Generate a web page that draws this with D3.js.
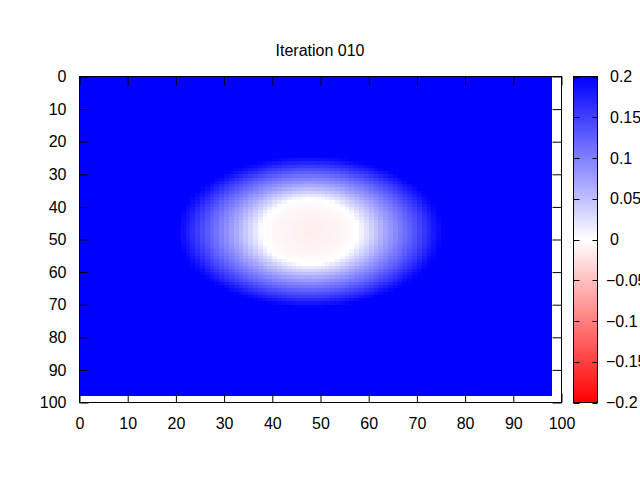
<!DOCTYPE html>
<html>
<head>
<meta charset="utf-8">
<script src="https://cdn.jsdelivr.net/npm/d3@7"></script>
<style>
  body { margin: 0; background: #fff; }
  text { font-family: "Liberation Sans", Arial, sans-serif; font-size: 16px; fill: #000; }
</style>
</head>
<body>
<div id="chart"></div>
<script>
// --- data ---
var title = "Iteration 010";
var gridSize = 98;                 // cells 0..97 on both axes
var xTicks = [0, 10, 20, 30, 40, 50, 60, 70, 80, 90, 100];
var yTicks = [0, 10, 20, 30, 40, 50, 60, 70, 80, 90, 100];
var cbTicks = [0.2, 0.15, 0.1, 0.05, 0, -0.05, -0.1, -0.15, -0.2];

// blob: center, inner (pinkish) core radius, outer halo radii
var blobCenter = [47.8, 47.6];
var coreRadius = 10;
var haloRadii = [27.6, 23.2];
// value inside the core, from center (0) to core edge (1)
var coreProfile = [-0.012, -0.012, -0.011, -0.011, -0.010, -0.009, -0.008, -0.007, -0.005, -0.002, 0.0];
// value across the halo, from core edge (0) to outer edge (1)
var haloProfile = [0.0, 0.024, 0.045, 0.066, 0.085, 0.104, 0.122, 0.142, 0.162, 0.183, 0.2];

var width = 640, height = 480;
var svg = d3.select("#chart").append("svg")
    .attr("width", width)
    .attr("height", height);

var x = d3.scaleLinear().domain([0, 100]).range([79.5, 561.5]);
var y = d3.scaleLinear().domain([0, 100]).range([76.5, 402.5]);

var color = d3.scaleLinear()
    .domain([-0.2, 0, 0.2])
    .range(["#ff0000", "#ffffff", "#0000ff"])
    .clamp(true);

function profileScale(p) {
    return d3.scaleLinear()
        .domain(p.map(function(d, i) { return i / (p.length - 1); }))
        .range(p)
        .clamp(true);
}
var coreS = profileScale(coreProfile),
    haloS = profileScale(haloProfile);

function cellValue(cx, cy) {
    var dx = cx - blobCenter[0], dy = cy - blobCenter[1];
    var r = Math.sqrt(dx * dx + dy * dy);
    if (r <= coreRadius) return coreS(r / coreRadius);
    var c = dx / r, s = dy / r;
    var ro = 1 / Math.sqrt(c * c / (haloRadii[0] * haloRadii[0]) + s * s / (haloRadii[1] * haloRadii[1]));
    return haloS((r - coreRadius) / (ro - coreRadius));
}

var cells = [];
for (var j = 0; j < gridSize; j++) {
    for (var i = 0; i < gridSize; i++) {
        cells.push({ i: i, j: j, v: cellValue(i + 0.5, j + 0.5) });
    }
}

// heatmap
svg.append("g")
    .attr("shape-rendering", "crispEdges")
    .selectAll("rect")
    .data(cells)
    .enter().append("rect")
    .attr("x", function(d) { return x(d.i); })
    .attr("y", function(d) { return y(d.j); })
    .attr("width", function(d) { return x(d.i + 1) - x(d.i) + 0.3; })
    .attr("height", function(d) { return y(d.j + 1) - y(d.j) + 0.3; })
    .attr("fill", function(d) { return color(d.v); });

// axes (inward ticks, mirrored)
function styleAxis(g) {
    g.select(".domain").remove();
    g.selectAll(".tick line").attr("stroke", "#000");
    g.selectAll(".tick text").style("font-family", "'Liberation Sans', Arial, sans-serif").style("font-size", "16px");
}
svg.append("g")
    .attr("transform", "translate(0," + y(100) + ")")
    .call(d3.axisBottom(x).tickValues(xTicks).tickSize(-9).tickPadding(15).tickFormat(d3.format("d")))
    .call(styleAxis);
svg.append("g")
    .attr("transform", "translate(0," + y(0) + ")")
    .call(d3.axisTop(x).tickValues(xTicks).tickSize(-9).tickFormat(""))
    .call(styleAxis);
svg.append("g")
    .attr("transform", "translate(" + x(0) + ",0)")
    .call(d3.axisLeft(y).tickValues(yTicks).tickSize(-9).tickPadding(13).tickFormat(d3.format("d")))
    .call(styleAxis);
svg.append("g")
    .attr("transform", "translate(" + x(100) + ",0)")
    .call(d3.axisRight(y).tickValues(yTicks).tickSize(-9).tickFormat(""))
    .call(styleAxis);

svg.append("rect")
    .attr("x", x(0)).attr("y", y(0))
    .attr("width", x(100) - x(0)).attr("height", y(100) - y(0))
    .attr("fill", "none").attr("stroke", "#000").attr("stroke-width", 1);

// title
svg.append("text")
    .attr("x", 320).attr("y", 56)
    .attr("text-anchor", "middle")
    .text(title);

// colour box
var cbX0 = 573.5, cbX1 = 597.5;
var cb = d3.scaleLinear().domain([-0.2, 0.2]).range([402.5, 76.5]);

var grad = svg.append("defs").append("linearGradient")
    .attr("id", "cbgrad")
    .attr("x1", 0).attr("y1", 0).attr("x2", 0).attr("y2", 1);
grad.selectAll("stop")
    .data([0.2, 0, -0.2])
    .enter().append("stop")
    .attr("offset", function(d, i) { return (i * 50) + "%"; })
    .attr("stop-color", function(d) { return color(d); });

svg.append("rect")
    .attr("x", cbX0).attr("y", cb(0.2))
    .attr("width", cbX1 - cbX0).attr("height", cb(-0.2) - cb(0.2))
    .attr("fill", "url(#cbgrad)")
    .attr("stroke", "#000");

var cbT = svg.append("g").selectAll("g")
    .data(cbTicks)
    .enter().append("g");
cbT.append("line")
    .attr("x1", cbX0).attr("x2", cbX0 + 6)
    .attr("y1", function(d) { return Math.round(cb(d)) + 0.5; })
    .attr("y2", function(d) { return Math.round(cb(d)) + 0.5; })
    .attr("stroke", "#000");
cbT.append("line")
    .attr("x1", cbX1 - 5).attr("x2", cbX1)
    .attr("y1", function(d) { return Math.round(cb(d)) + 0.5; })
    .attr("y2", function(d) { return Math.round(cb(d)) + 0.5; })
    .attr("stroke", "#000");
cbT.append("text")
    .attr("x", function(d) { return d < 0 ? 606 : 610; })
    .attr("y", function(d) { return cb(d); })
    .attr("dy", "0.35em")
    .text(function(d) { return d3.format("")(d); });
</script>
</body>
</html>
